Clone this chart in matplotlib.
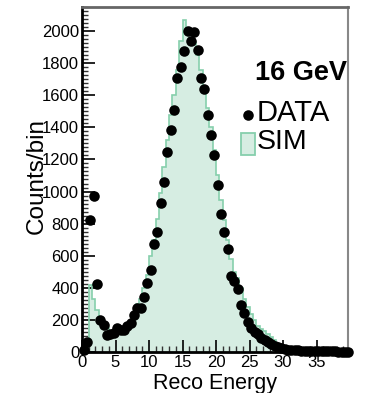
import numpy as np
import matplotlib
matplotlib.use("Agg")
import matplotlib.pyplot as plt
from matplotlib.ticker import MultipleLocator
from matplotlib.patches import Rectangle
from matplotlib.lines import Line2D

plt.rcParams['font.family'] = ['Liberation Sans', 'DejaVu Sans']

# Reconstructed energy histogram, 0.5-wide bins from 0 to 40
bin_edges = np.arange(0, 40.01, 0.5)
bin_centers = 0.5 * (bin_edges[:-1] + bin_edges[1:])

data_counts = [
    12, 60, 820, 975, 425, 200, 170, 105, 110, 120,
    150, 140, 135, 160, 180, 230, 275, 275, 345, 430,
    510, 675, 750, 930, 1060, 1245, 1385, 1510, 1705, 1775,
    1875, 2000, 1935, 1995, 1885, 1710, 1640, 1480, 1355, 1230,
    1040, 860, 745, 645, 475, 440, 395, 290, 245, 190,
    150, 125, 110, 90, 75, 60, 50, 40, 30, 25,
    18, 15, 12, 10, 10, 8, 8, 7, 6, 6,
    5, 5, 5, 4, 4, 4, 3, 3, 3, 3,
]

sim_counts = [
    15, 60, 420, 330, 260, 210, 185, 150, 130, 120,
    125, 130, 140, 155, 190, 240, 300, 330, 400, 480,
    600, 700, 830, 990, 1150, 1320, 1480, 1600, 1760, 1940,
    2070, 1980, 2010, 1930, 1850, 1760, 1650, 1520, 1400, 1260,
    1100, 950, 820, 700, 580, 500, 460, 400, 330, 280,
    235, 200, 165, 145, 130, 115, 95, 75, 50, 30,
    18, 10, 6, 4, 3, 2, 2, 1, 1, 1,
    0, 0, 0, 0, 0, 0, 0, 0, 0, 0,
]

x_ticks = [0, 5, 10, 15, 20, 25, 30, 35]
y_ticks = list(range(0, 2001, 200))

sim_fill = '#d6ede2'
sim_edge = '#86cfac'

fig = plt.figure(figsize=(3.65, 3.93), dpi=100)
ax = fig.add_axes([82 / 365, 1 - 352 / 393, 266 / 365, 345 / 393])

ax.stairs(sim_counts, bin_edges, fill=True, color=sim_fill, zorder=1)
ax.stairs(sim_counts, bin_edges, color=sim_edge, linewidth=1.2, zorder=2)
ax.plot(bin_centers, data_counts, 'o', color='black', markersize=7.6,
        markeredgewidth=0, zorder=3, clip_on=False)

ax.set_xlim(0, 39.7)
ax.set_ylim(0, 2150)
ax.set_xticks(x_ticks)
ax.set_yticks(y_ticks)
ax.xaxis.set_minor_locator(MultipleLocator(1))
ax.yaxis.set_minor_locator(MultipleLocator(25))

ax.tick_params(axis='both', which='major', direction='in', length=9,
               width=1.2, labelsize=12, color='black')
ax.tick_params(axis='both', which='minor', direction='in', length=4.5,
               width=1.0, color='#333333')
ax.tick_params(axis='y', which='major', pad=2)
ax.tick_params(axis='x', which='major', pad=2)

ax.spines['left'].set_linewidth(2)
ax.spines['bottom'].set_linewidth(2)
ax.spines['top'].set_color('#666666')
ax.spines['top'].set_linewidth(2)
ax.spines['right'].set_color('#888888')
ax.spines['right'].set_linewidth(1.5)

ax.set_xlabel('Reco Energy', fontsize=15.5)
ax.xaxis.set_label_coords(0.5, -0.062)
ax.set_ylabel('Counts/bin', fontsize=17.5)
ax.yaxis.set_label_coords(-0.127, 0.51)

# Legend drawn by hand in axes coordinates
ax.text(0.650, 0.808, '16 GeV', transform=ax.transAxes, fontsize=19.5,
        fontweight='bold', va='center', ha='left', zorder=5)
ax.add_line(Line2D([0.624], [0.688], transform=ax.transAxes, marker='o',
                   color='black', markersize=7.6, markeredgewidth=0,
                   linestyle='none', zorder=5))
ax.text(0.656, 0.694, 'DATA', transform=ax.transAxes, fontsize=21,
        va='center', ha='left', zorder=5)
ax.add_patch(Rectangle((0.597, 0.571), 0.053, 0.064, transform=ax.transAxes,
                       facecolor=sim_fill, edgecolor=sim_edge, linewidth=1.3,
                       zorder=5))
ax.text(0.656, 0.610, 'SIM', transform=ax.transAxes, fontsize=20.5,
        va='center', ha='left', zorder=5)

fig.savefig('out.png', dpi=100)
